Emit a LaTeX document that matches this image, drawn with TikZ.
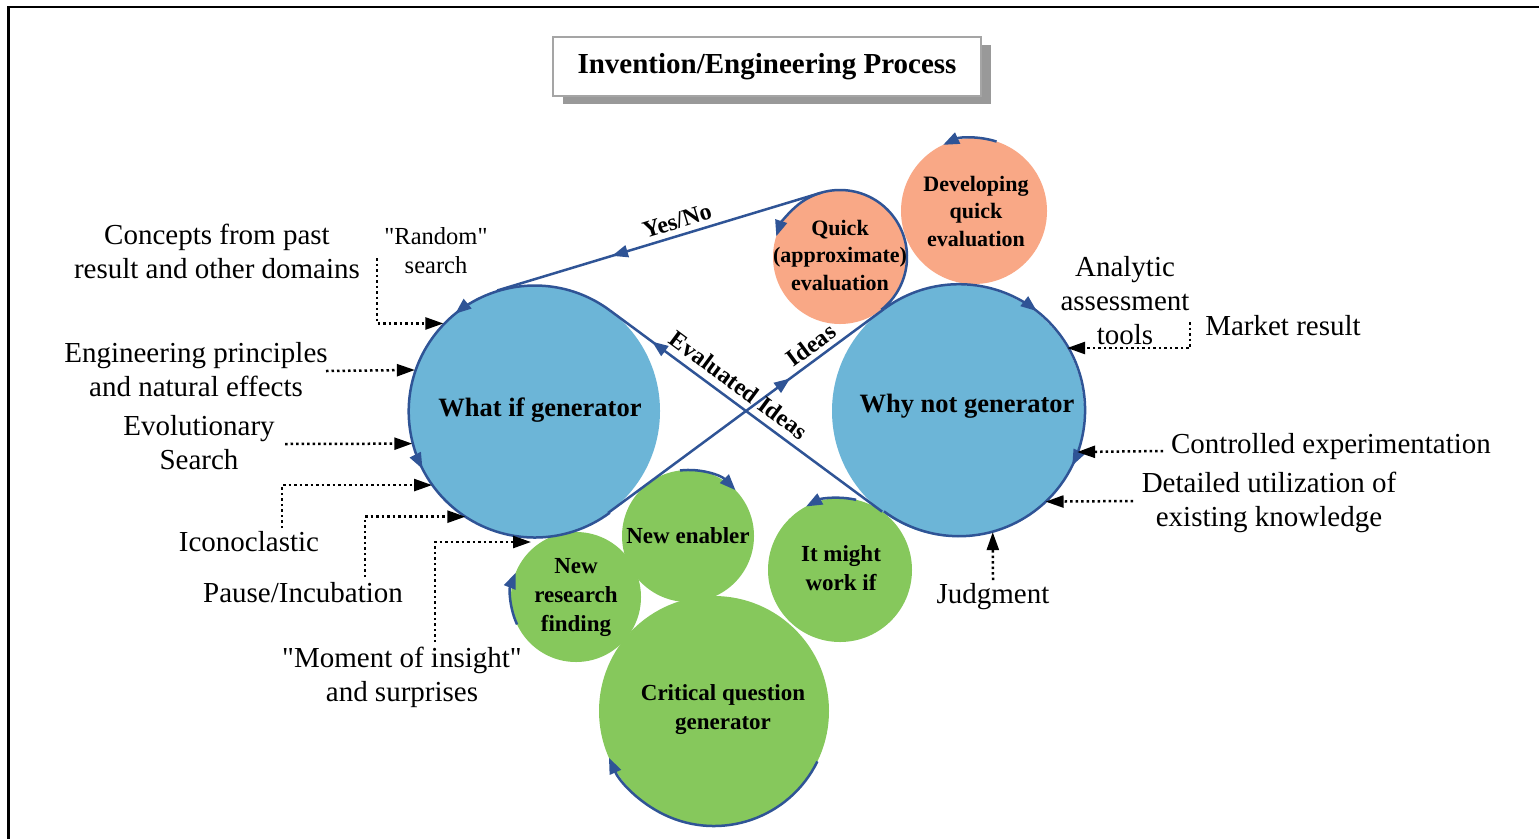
\documentclass[tikz,border=0pt]{standalone}
\usepackage{fontspec}
\setmainfont{Liberation Serif}[Ligatures=TeXOff]
\usetikzlibrary{arrows.meta,decorations.markings,shadows}
\definecolor{cblue}{RGB}{108,181,215}
\definecolor{cline}{RGB}{47,84,150}
\definecolor{csalmon}{RGB}{249,168,134}
\definecolor{cgreen}{RGB}{134,200,92}
\definecolor{sgray}{RGB}{153,153,153}
\definecolor{bgray}{RGB}{165,165,165}
\tikzset{
  bubble/.style={circle, inner sep=0pt, outer sep=0pt, minimum size=#1},
  flow/.style={draw=cline, line width=2.5pt},
  flowend/.style={flow, -{Triangle[length=16pt,width=12pt]}},
  arrowat/.style={postaction={decorate, decoration={markings,
      mark=at position #1 with {\arrow{Triangle[length=16pt,width=12pt]}}}}},
  dotarrow/.style={line width=2.5pt, dash pattern=on 2.5pt off 3pt,
      -{Triangle[length=18pt,width=12pt]}},
  note/.style={font=\fontsize{29}{34}\selectfont, align=center, inner sep=0pt},
  smallnote/.style={font=\fontsize{24.5}{29}\selectfont, align=center, inner sep=0pt},
  ctext/.style={font=\bfseries\fontsize{23}{29}\selectfont, align=center, inner sep=0pt},
  qtext/.style={font=\bfseries\fontsize{22}{27.5}\selectfont, align=center, inner sep=0pt},
  gtext/.style={font=\bfseries\fontsize{26.5}{32}\selectfont, inner sep=0pt},
  lbl/.style={font=\bfseries\fontsize{24}{28}\selectfont, inner sep=0pt},
  titlebox/.style={draw=bgray, line width=2pt, fill=white, minimum width=428pt,
      minimum height=59pt, inner sep=0pt, font=\bfseries\fontsize{29}{34}\selectfont,
      drop shadow={shadow xshift=10pt, shadow yshift=-8pt, fill=sgray, opacity=1}}
}
\begin{document}
\begin{tikzpicture}[x=1pt,y=1pt]
\useasboundingbox (0,0) rectangle (1539,-839);
\fill[white] (0,0) rectangle (1539,-839);
% frame
\draw[line width=2.5pt] (8.3,-839) -- (8.3,-7) -- (1539,-7);
% title
\node[titlebox] (title) at (767,-66.5) {Invention/Engineering Process};
% circles
\node[bubble=252pt, fill=cblue] (wi) at (534,-411) {};
\node[bubble=252pt, fill=cblue] (wn) at (958,-411) {};
\node[bubble=134pt, fill=csalmon] (qe) at (840,-257) {};
\node[bubble=146pt, fill=csalmon] (dq) at (974,-211) {};
\node[bubble=132pt, fill=cgreen] (ne) at (688,-536) {};
\node[bubble=130pt, fill=cgreen] (nr) at (576,-597) {};
\node[bubble=144pt, fill=cgreen] (im) at (840,-570) {};
\node[bubble=230pt, fill=cgreen] (cq) at (714,-711) {};
% flow lines
\draw[flow, arrowat=0.299, arrowat=0.607] (wi.53.4) arc[start angle=53.4, end angle=306.6, radius=126pt];
\draw[flow, arrowat=0.295, arrowat=0.603] (wn.126.6) arc[start angle=126.6, end angle=-126.6, radius=126pt];
\draw[flow, arrowat=0.66] (wi.306.6) -- (wn.126.6);
\draw[flow, arrowat=0.845] (wn.233.4) -- (wi.53.4);
\draw[flowend] (qe.308) arc[start angle=-52, end angle=162, radius=67pt];
\draw[flow, arrowat=0.645] (qe.107.1) -- (wi.107.1);
\draw[flowend] (dq.72) arc[start angle=72, end angle=115, radius=73pt];
\draw[flowend] (ne.97) arc[start angle=97, end angle=44, radius=66pt];
\draw[flowend] (im.77) arc[start angle=77, end angle=118, radius=72pt];
\draw[flowend] (nr.205) arc[start angle=205, end angle=158, radius=65pt];
\draw[flowend] (cq.334) arc[start angle=-26, end angle=-156, radius=115pt];
% line labels
\node[lbl, rotate=17.1] (yn) at (677,-221) {Yes/No};
\node[lbl, rotate=36.5] (id) at (811,-345) {Ideas};
\node[lbl, rotate=-36.5] (ev) at (739,-385) {Evaluated Ideas};
% circle texts
\node[gtext] (twi) at (540,-410) {What if generator};
\node[gtext] (twn) at (967,-406) {Why not generator};
\node[qtext] (tqe) at (840,-255) {Quick\\(approximate)\\evaluation};
\node[qtext] (tdq) at (976,-211) {Developing\\quick\\evaluation};
\node[ctext] (tne) at (688,-536) {New enabler};
\node[ctext] (tnr) at (576,-597) {New\\research\\finding};
\node[ctext] (tim) at (841,-568) {It might\\work if};
\node[ctext] (tcq) at (723,-710) {Critical question\\generator};
% side notes
\node[note] (n1) at (217,-251) {Concepts from past\\result and other domains};
\node[smallnote] (n2) at (436,-250.5) {"Random"\\search};
\node[note] (n3) at (196,-369.5) {Engineering principles\\and natural effects};
\node[note] (n4) at (199,-442.5) {Evolutionary\\Search};
\node[note] (n5) at (249,-542) {Iconoclastic};
\node[note] (n6) at (303,-593) {Pause/Incubation};
\node[note] (n7) at (402,-677.5) {"Moment of insight"\\and surprises};
\node[note] (n8) at (1125,-301) {Analytic\\assessment\\tools};
\node[note] (n9) at (1283,-326) {Market result};
\node[note] (n10) at (1331,-447) {Controlled experimentation};
\node[note] (n11) at (1269,-502.5) {Detailed utilization of\\existing knowledge};
\node[note] (n12) at (993,-597) {Judgment};
% dotted input arrows
\coordinate (s1) at (377,-258);
\coordinate (s2) at (326,-371);
\coordinate (s3) at (285,-444);
\coordinate (s4) at (282,-528);
\coordinate (s5) at (365,-577);
\coordinate (s6) at (435,-642);
\coordinate (mtip) at (531,-542);
\coordinate (s7) at (1190,-322);
\coordinate (s8) at (1163,-451);
\coordinate (s9) at (1133,-501);
\coordinate (s10) at (993,-580);
\draw[dotarrow] (s1) |- (wi.136.3);
\draw[dotarrow] (s2) -- (wi.161.5);
\draw[dotarrow] (s3) -- (wi.195.2);
\draw[dotarrow] (s4) |- (wi.216);
\draw[dotarrow] (s5) |- (wi.237.3);
\draw[dotarrow] (s6) |- (mtip);
\draw[dotarrow] (s7) |- (wn.30);
\draw[dotarrow] (s8) -- (wn.341.5);
\draw[dotarrow] (s9) -- (wn.314.4);
\draw[dotarrow] (s10) -- (wn.286.1);
\end{tikzpicture}
\end{document}
